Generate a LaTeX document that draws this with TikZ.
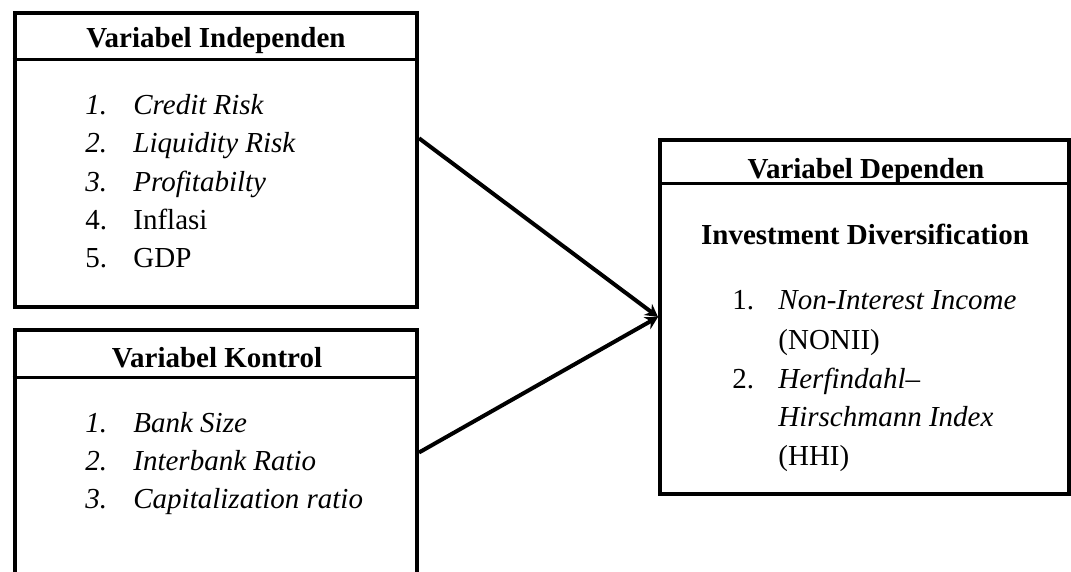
\documentclass[tikz,border=0pt]{standalone}
\usepackage{fontspec}
\setmainfont{Liberation Serif}
\usetikzlibrary{arrows.meta,positioning,fit}
\tikzset{
  varbox/.style={draw=black,line width=2pt,inner sep=0pt},
  headline/.style={line width=1.5pt},
  headtxt/.style={font=\fontsize{14.5}{17}\selectfont\bfseries,inner sep=0pt,anchor=base},
  item/.style={font=\fontsize{14.5}{17}\selectfont,inner sep=0pt,anchor=base west},
  link/.style={-{Stealth[length=2.2mm,width=2.4mm]},line width=2pt},
}

\begin{document}
\begin{tikzpicture}[x=0.5pt,y=-0.5pt]
  \useasboundingbox (0,0) rectangle (1071,572);
  \clip (0,0) rectangle (1071,572);

  % boxes
  \node[varbox,fit={(14.5,13.5) (417,307)}] (indep) {};
  \node[varbox,fit={(14.5,330) (417,575)}] (kon) {};
  \node[varbox,fit={(660,140) (1069,494)}] (dep) {};

  \draw[headline] (indep.west |- 0,60) -- (indep.east |- 0,60);
  \draw[headline] (kon.west |- 0,377) -- (kon.east |- 0,377);
  \draw[headline] (dep.west |- 0,184) -- (dep.east |- 0,184);

  % headers
  \node[headtxt] (indeph) at (216,48) {Variabel Independen};
  \node[headtxt] (konh) at (217,367) {Variabel Kontrol};
  \node[headtxt] (deph) at (866,179) {Variabel Dependen};
  \node[headtxt] (divh) at (865,245) {Investment Diversification};

  % independent variables
  \foreach \n/\t/\y [count=\i] in {{\itshape 1.}/{\itshape Credit Risk}/115,
      {\itshape 2.}/{\itshape Liquidity Risk}/153,
      {\itshape 3.}/{\itshape Profitabilty}/192,
      4./Inflasi/230,
      5./GDP/268}{
    \node[item] (in\i) at (85,\y) {\n};
    \node[item] (it\i) at (133,\y) {\t};
  }

  % control variables
  \foreach \t/\y [count=\i] in {Bank Size/432,Interbank Ratio/470,Capitalization ratio/508}{
    \node[item] (kn\i) at (85,\y) {\itshape\i.};
    \node[item] (kt\i) at (133,\y) {\itshape\t};
  }

  % dependent variables
  \node[item] (dn1) at (732,310) {1.};
  \node[item] (dt1) at (778,310) {\itshape Non-Interest Income};
  \node[item] (dt1b) at (778,350) {(NONII)};
  \node[item] (dn2) at (732,388) {2.};
  \node[item] (dt2) at (778,388) {\itshape Herfindahl--};
  \node[item] (dt2b) at (778,426) {\itshape Hirschmann Index};
  \node[item] (dt2c) at (778,465) {(HHI)};

  % connectors
  \draw[link] ([yshift=11pt]indep.east) -- (dep.west);
  \draw[link] (kon.east) -- (dep.west);
\end{tikzpicture}
\end{document}
